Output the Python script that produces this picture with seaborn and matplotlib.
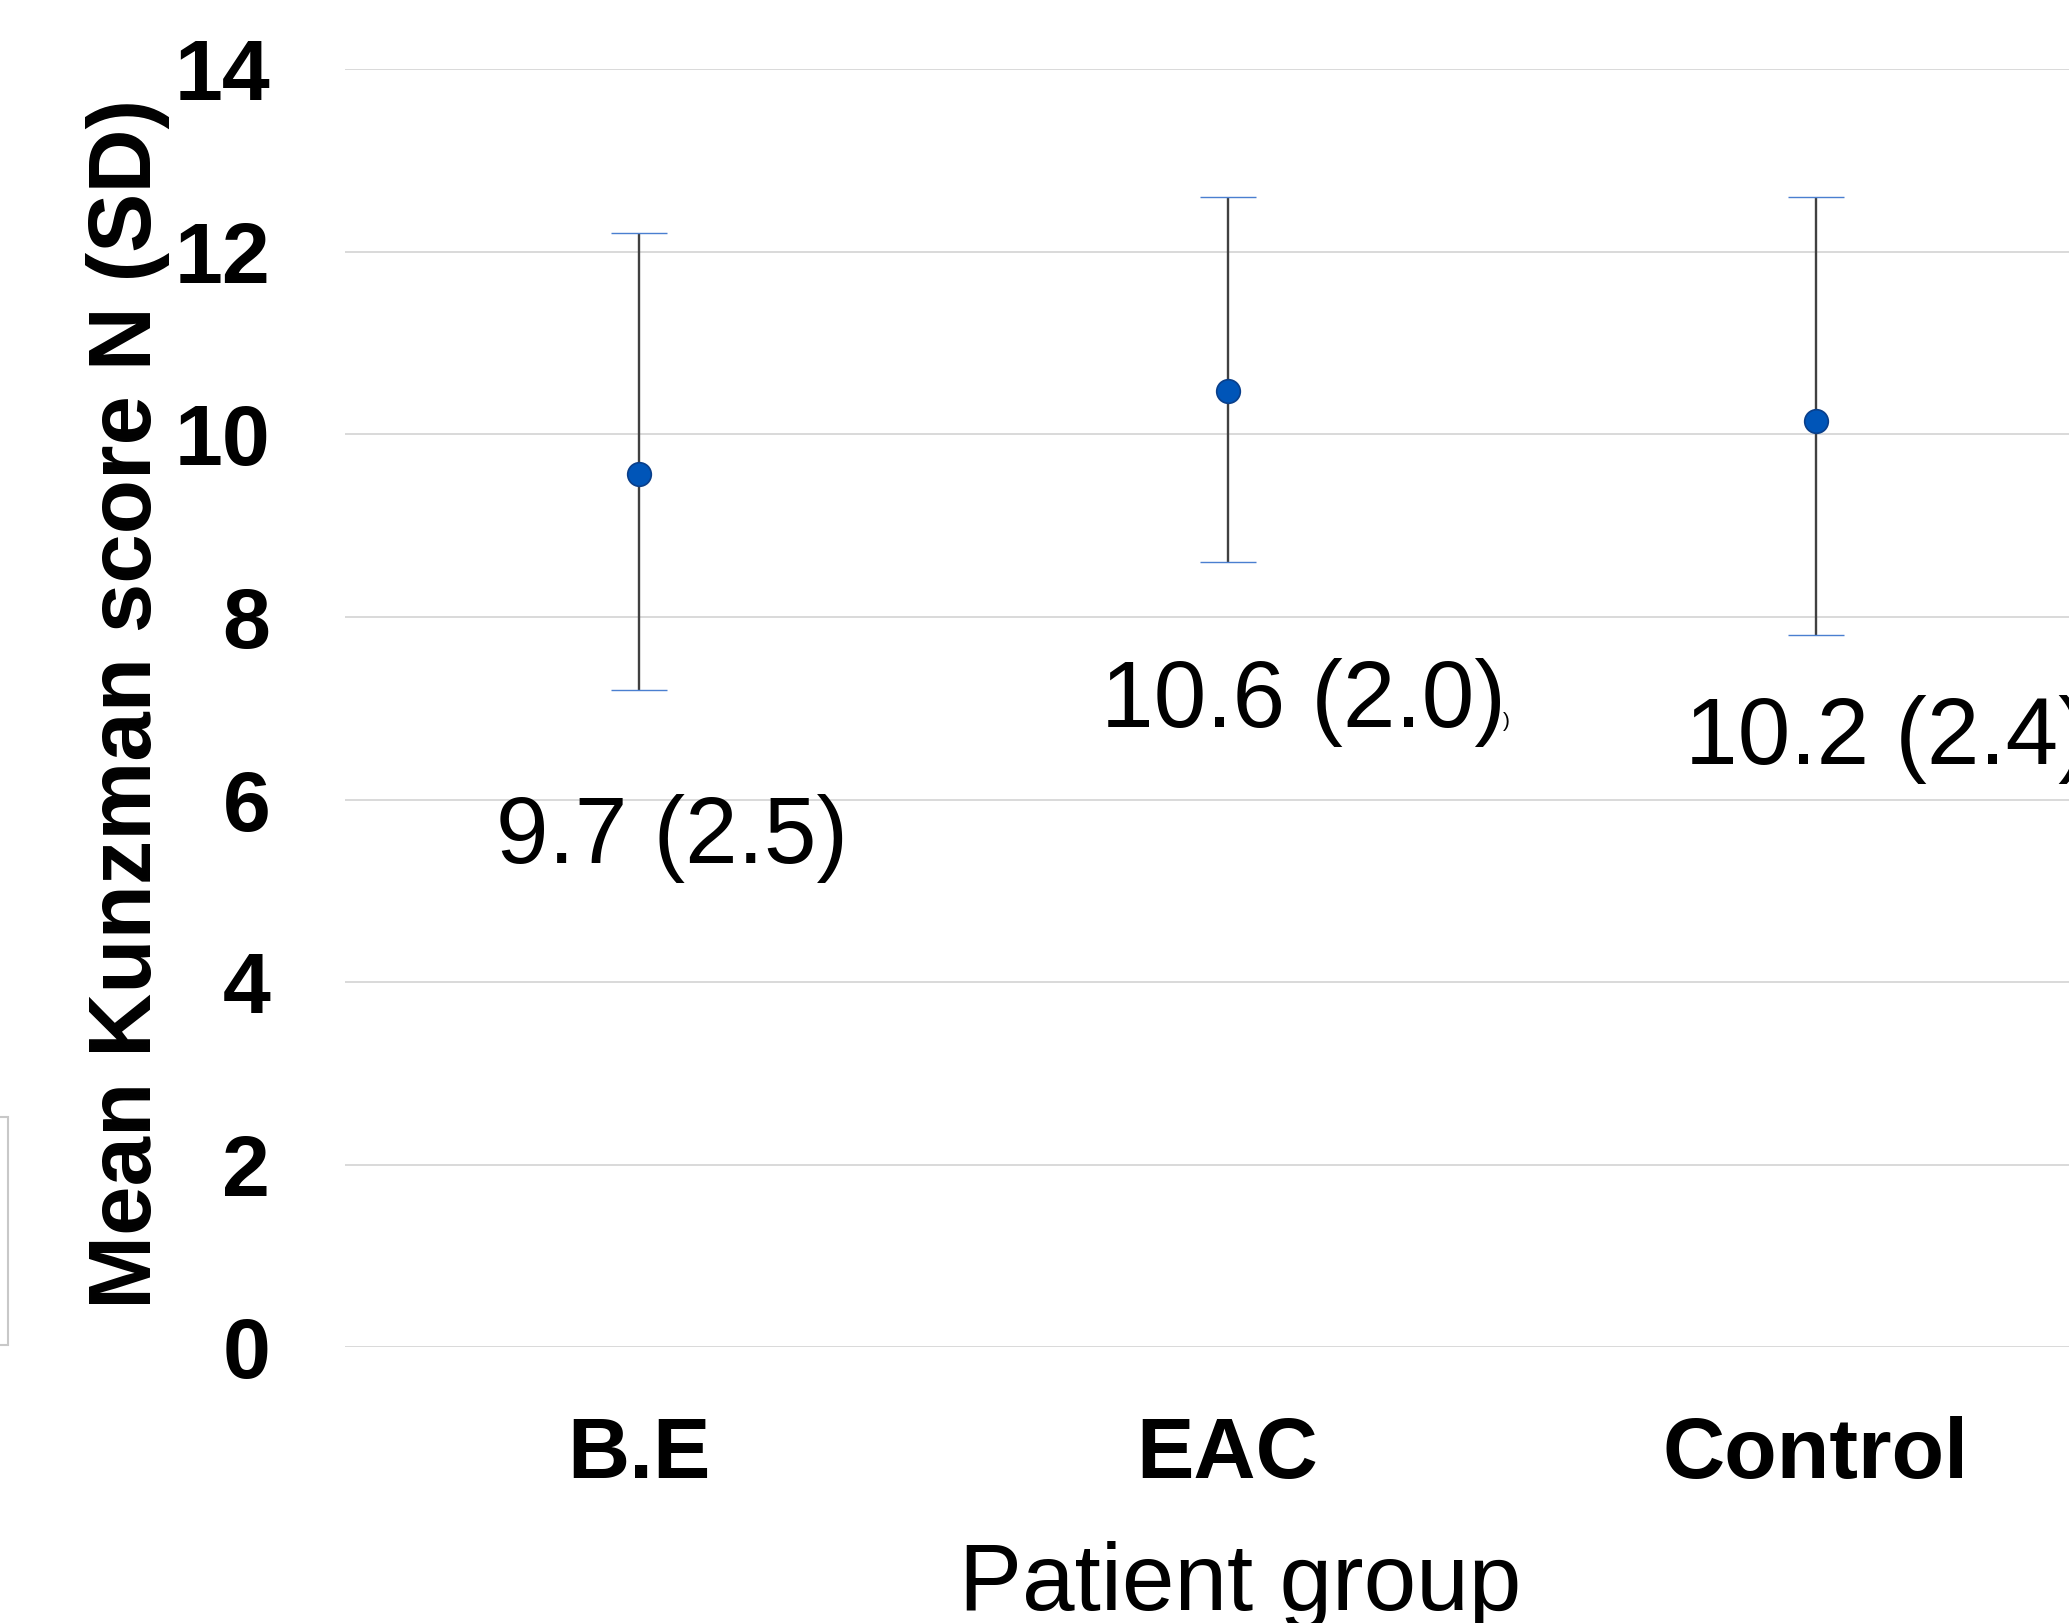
import numpy as np
import pandas as pd
import matplotlib
matplotlib.use("Agg")
import matplotlib.pyplot as plt
from matplotlib.patches import Rectangle
import seaborn as sns

# ---- data ----
groups = ["B.E", "EAC", "Control"]
point_values = [9.57, 10.47, 10.15]      # plotted marker positions
mean_values = [9.7, 10.6, 10.2]          # labelled means (error bar centres)
sd_values = [2.5, 2.0, 2.4]              # standard deviations
label_texts = ["9.7 (2.5)", "10.6 (2.0)", "10.2 (2.4)"]
y_ticks = [0, 2, 4, 6, 8, 10, 12, 14]

sns.set_theme(style="white")
plt.rcParams["font.family"] = ["Liberation Sans", "DejaVu Sans"]
plt.rcParams["text.color"] = "black"
plt.rcParams["axes.labelcolor"] = "black"
plt.rcParams["xtick.color"] = "black"
plt.rcParams["ytick.color"] = "black"

fig = plt.figure(figsize=(20.69, 16.23), dpi=100)
ax = fig.add_axes([0.1669, 0.16975, 0.85288, 0.78774])

df = pd.DataFrame({"group": groups, "point": point_values})

# error bars (mean +/- SD)
eb = ax.errorbar(np.arange(len(groups)), mean_values, yerr=sd_values, fmt="none",
                 ecolor="#404040", elinewidth=1.7, capsize=20, capthick=1.0, zorder=2)
for cap in eb[1]:
    cap.set_color("#4A7FD0")
    cap.set_markeredgecolor("#4A7FD0")

sns.stripplot(data=df, x="group", y="point", order=groups, jitter=False, size=17,
              color="#0055B8", edgecolor="#0A3F8A", linewidth=1.2, zorder=3, ax=ax)

# annotations
label_x = [-0.2436, 0.784, 1.778]
label_y = [5.306, 6.79, 6.385]
for lx, ly, t in zip(label_x, label_y, label_texts):
    ax.text(lx, ly, t, fontsize=68, ha="left", va="baseline", color="black", zorder=4)
ax.text(1.468, 6.79, ")", fontsize=15, ha="left", va="baseline", color="black")

ax.set_xlim(-0.5, 2.5)
ax.set_ylim(0, 14)
ax.set_yticks(y_ticks)
ax.set_yticklabels([str(v) for v in y_ticks], fontsize=62, fontweight="bold", color="black")
ax.set_xticks(range(len(groups)))
ax.set_xticklabels(groups, fontsize=62, fontweight="bold", color="black")
ax.tick_params(axis="both", length=0)
ax.tick_params(axis="x", pad=49)
ax.tick_params(axis="y", pad=54)

ax.grid(axis="y", color="#D9D9D9", linewidth=1.4)
ax.grid(axis="x", visible=False)
ax.set_axisbelow(True)
for s in ax.spines.values():
    s.set_visible(False)

ax.set_ylabel("Mean Kunzman score N (SD)", fontsize=64, fontweight="bold", color="black")
ax.yaxis.set_label_coords(-0.0993, 0.503)
ax.set_xlabel("Patient group", fontsize=68, color="black")
ax.xaxis.set_label_coords(0.507, -0.1513)

# partial legend-like box at left edge
fig.patches.append(Rectangle((-0.005, 0.1713), 0.0089, 0.1405, transform=fig.transFigure,
                             fill=False, edgecolor="#C8C8C8", linewidth=1.5))

fig.savefig("out.png", dpi=100)
